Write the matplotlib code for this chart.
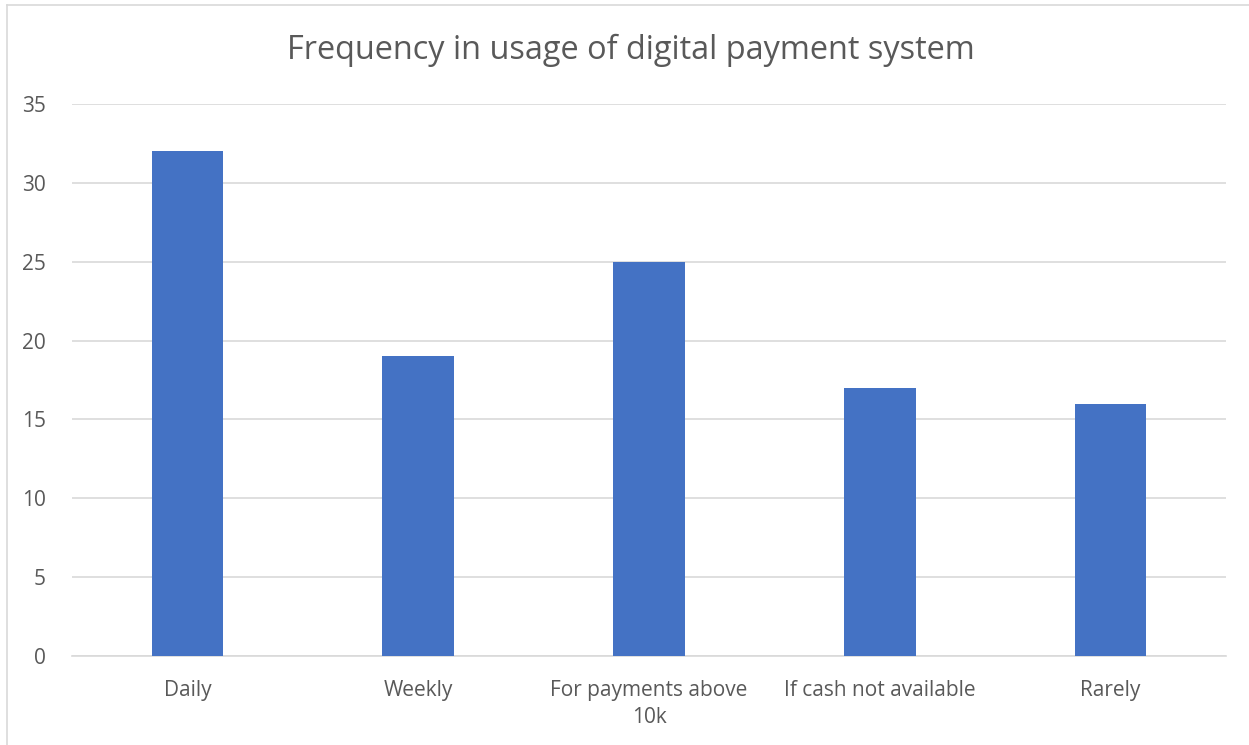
import matplotlib
matplotlib.use("Agg")
import matplotlib.pyplot as plt
from matplotlib.lines import Line2D

categories = ["Daily", "Weekly", "For payments above\n10k", "If cash not available", "Rarely"]
counts = [32, 19, 25, 17, 16]
yticks = [0, 5, 10, 15, 20, 25, 30, 35]

BAR_COLOR = "#4472C4"
TEXT_COLOR = "#595959"
GRID_COLOR = "#D9D9D9"

plt.rcParams["font.family"] = ["Open Sans", "DejaVu Sans"]

W, H = 1249, 745
fig = plt.figure(figsize=(W / 100, H / 100), dpi=100)
ax = fig.add_axes([72 / W, 1 - 656 / H, (1226 - 72) / W, (656 - 104) / H])

x = range(len(categories))
ax.bar(x, counts, width=0.31, color=BAR_COLOR, zorder=3)

ax.set_xlim(-0.5, len(categories) - 0.5)
ax.set_ylim(0, 35)
ax.set_yticks(yticks)
ax.set_xticks(list(x), categories, linespacing=1.4)
ax.tick_params(axis="both", length=0, labelsize=15, colors=TEXT_COLOR)
ax.tick_params(axis="x", pad=17)
ax.tick_params(axis="y", pad=19)

ax.grid(axis="y", color=GRID_COLOR, linewidth=1.2, zorder=0)
for side in ("top", "right", "left"):
    ax.spines[side].set_visible(False)
ax.spines["bottom"].set_color(GRID_COLOR)
ax.spines["bottom"].set_linewidth(1.2)

fig.text(631 / W, 1 - 50 / H, "Frequency in usage of digital payment system",
         ha="center", va="center", fontsize=23.4, color=TEXT_COLOR)

# chart frame: only the top and left edges fall inside the image
fig.add_artist(Line2D([7 / W, 7 / W], [0, 1 - 5 / H], transform=fig.transFigure,
                      color=GRID_COLOR, linewidth=1.2))
fig.add_artist(Line2D([7 / W, 1], [1 - 5 / H, 1 - 5 / H], transform=fig.transFigure,
                      color=GRID_COLOR, linewidth=1.2))

fig.savefig("out.png", dpi=100, facecolor="white")
